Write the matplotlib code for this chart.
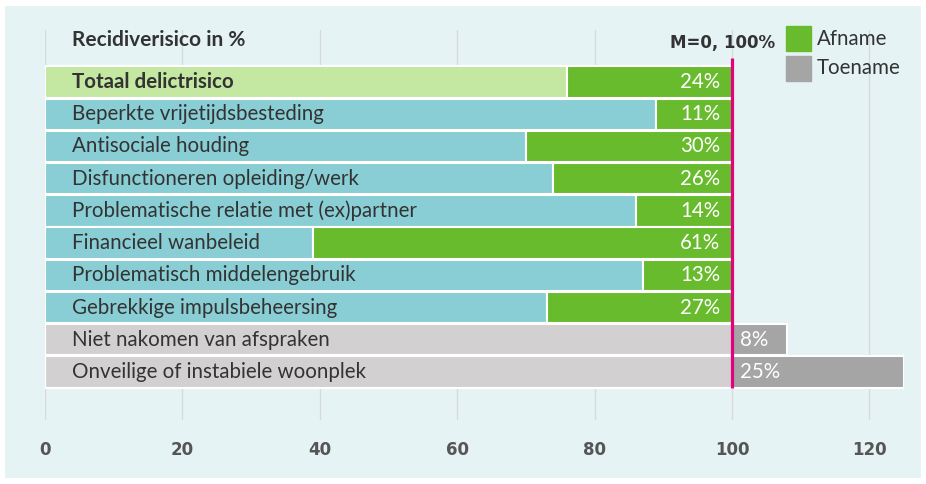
import numpy as np
import matplotlib.pyplot as plt
from matplotlib.patches import Rectangle

plt.rcParams['font.family'] = ['Lato', 'DejaVu Sans']

# data
labels = ['Totaal delictrisico', 'Beperkte vrijetijdsbesteding', 'Antisociale houding',
          'Disfunctioneren opleiding/werk', 'Problematische relatie met (ex)partner',
          'Financieel wanbeleid', 'Problematisch middelengebruik',
          'Gebrekkige impulsbeheersing', 'Niet nakomen van afspraken',
          'Onveilige of instabiele woonplek']
change = [-24, -11, -30, -26, -14, -61, -13, -27, 8, 25]   # negative = afname
xticks = [0, 20, 40, 60, 80, 100, 120]

bg = '#e6f3f5'
c_total = '#c4e8a2'
c_teal = '#89cdd5'
c_green = '#67bb2c'
c_lgrey = '#d3d0d1'
c_dgrey = '#a5a5a5'
c_text = '#333333'

fig = plt.figure(figsize=(9.26, 4.84), dpi=100)
fig.patches.append(Rectangle((5/926, 6/484), 916/926, 472/484, transform=fig.transFigure,
                             facecolor=bg, edgecolor='none', zorder=-10))
ax = fig.add_axes([45/926, 1-420/484, 858.75/926, 390/484])
ax.set_facecolor('none')
ax.set_xlim(0, 125)
ax.set_ylim(10.49, -1.614)

for x in xticks:
    ax.axvline(x, color='#d6dadb', lw=1, zorder=0)

fs = 14.8
y = np.arange(len(labels))
for i, (lab, c) in enumerate(zip(labels, change)):
    if c < 0:
        base = 100 + c
        basecol = c_total if i == 0 else c_teal
        ax.barh(i, base, height=0.97, color=basecol, edgecolor='white', lw=1.5, zorder=2)
        ax.barh(i, -c, left=base, height=0.97, color=c_green, edgecolor='white', lw=1.5, zorder=2)
        ax.text(98.3, i, f'{-c}%', color='white', ha='right', va='center', fontsize=fs, zorder=4)
    else:
        ax.barh(i, 100, height=0.97, color=c_lgrey, edgecolor='white', lw=1.5, zorder=2)
        ax.barh(i, c, left=100, height=0.97, color=c_dgrey, edgecolor='white', lw=1.5, zorder=2)
        ax.text(101.2, i, f'{c}%', color='white', ha='left', va='center', fontsize=fs, zorder=4)
    ax.text(3.9, i, lab, color=c_text, ha='left', va='center', fontsize=fs,
            fontweight='bold' if i == 0 else 'normal', zorder=4)

ax.plot([100, 100], [-0.745, 9.5], color='#e5007d', lw=2.3, zorder=5, solid_capstyle='butt')

ax.text(3.9, -1.3, 'Recidiverisico in %', color=c_text, ha='left', va='center',
        fontsize=15, fontweight='bold')
ax.text(106.3, -1.2, 'M=0, 100%', color=c_text, ha='right', va='center',
        fontsize=12, fontweight='bold', family=['DejaVu Sans'])

# legend
ax.add_patch(Rectangle((107.9, -1.75), 3.64, 0.8, color=c_green, clip_on=False))
ax.add_patch(Rectangle((107.9, -0.82), 3.64, 0.8, color=c_dgrey, clip_on=False))
ax.text(112.4, -1.35, 'Afname', color=c_text, va='center', fontsize=fs)
ax.text(112.4, -0.42, 'Toename', color=c_text, va='center', fontsize=fs)

ax.set_xticks(xticks)
ax.set_xticklabels([str(t) for t in xticks], fontsize=12, fontweight='bold', color='#555555',
                   family=['DejaVu Sans'])
ax.tick_params(axis='x', length=0, pad=15)
ax.set_yticks([])
for s in ax.spines.values():
    s.set_visible(False)

fig.savefig('out.png', dpi=100, facecolor='white')
